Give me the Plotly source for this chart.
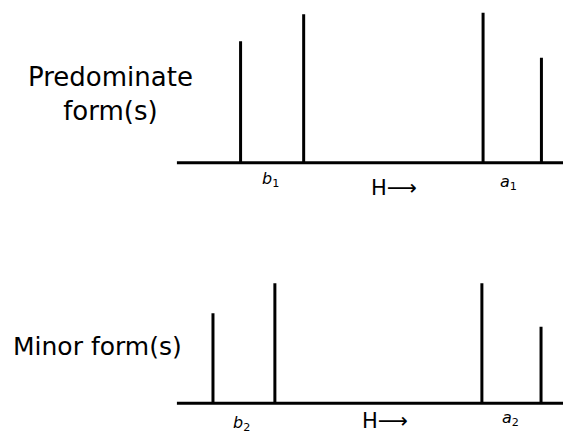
import plotly.graph_objects as go

# peak positions along the field axis (arbitrary units, 0-100) and relative heights
predominate_pos = [16.2, 32.2, 77.7, 92.5]
predominate_height = [0.81, 0.99, 1.00, 0.70]
minor_pos = [9.2, 24.9, 77.4, 92.4]
minor_height = [0.60, 0.80, 0.80, 0.51]

row_titles = ["Predominate<br>form(s)", "Minor form(s)"]
peak_labels_top = ["<i>b</i><sub>1</sub>", "<i>a</i><sub>1</sub>"]
peak_labels_bottom = ["<i>b</i><sub>2</sub>", "<i>a</i><sub>2</sub>"]
field_label = "H⟶"

FONT = "DejaVu Sans"
# the page body adds an 8px margin, so the canvas is a bit smaller than the window
W, H = 555, 427


def stick_xy(pos, height):
    # vertical sticks, separated with None so one trace draws them all
    xs, ys = [], []
    for p, h in zip(pos, height):
        xs += [p, p, None]
        ys += [0, h, None]
    return xs, ys


fig = go.Figure()

panels = [
    ("x", "y", predominate_pos, predominate_height, 99.2),
    ("x2", "y2", minor_pos, minor_height, 100),
]
for xa, ya, pos, height, x_end in panels:
    # baseline
    fig.add_trace(go.Scatter(x=[0, x_end], y=[0, 0], mode="lines",
                             line=dict(color="black", width=3),
                             xaxis=xa, yaxis=ya, hoverinfo="skip"))
    sx, sy = stick_xy(pos, height)
    fig.add_trace(go.Scatter(x=sx, y=sy, mode="lines",
                             line=dict(color="black", width=3),
                             xaxis=xa, yaxis=ya, hoverinfo="skip"))

hidden = dict(visible=False, showgrid=False, zeroline=False, fixedrange=True)
fig.update_layout(
    width=W, height=H,
    margin=dict(l=0, r=0, t=0, b=0),
    paper_bgcolor="white", plot_bgcolor="white",
    showlegend=False,
    font=dict(family=FONT, color="black"),
    xaxis=dict(domain=[0.30396, 1], range=[0, 97.97], anchor="y", **hidden),
    yaxis=dict(domain=[0.6272, 0.9960], range=[-0.03, 1.02], anchor="x", **hidden),
    xaxis2=dict(domain=[0.30396, 1], range=[0, 97.97], anchor="y2", **hidden),
    yaxis2=dict(domain=[0.0637, 0.4325], range=[-0.03, 1.02], anchor="x2", **hidden),
)


def label(text, x, y, size, yanchor="middle"):
    return dict(text=text, x=x, y=y, xref="paper", yref="paper",
                xanchor="center", yanchor=yanchor, showarrow=False,
                font=dict(size=size), align="center")


ann = [
    # row titles on the left
    label(row_titles[0], 0.1838, 0.7986, 26),
    label(row_titles[1], 0.1613, 0.2061, 25),
    # peak group labels and field direction
    label(peak_labels_top[0], 0.4721, 0.5972, 16),
    label(peak_labels_top[1], 0.9027, 0.5925, 16),
    label(field_label, 0.6955, 0.5785, 21),
    label(peak_labels_bottom[0], 0.4211, 0.0281, 16),
    label(peak_labels_bottom[1], 0.9063, 0.0398, 16),
    label(field_label, 0.6793, 0.0, 21, yanchor="bottom"),
]
fig.update_layout(annotations=ann)

fig.write_html("out.html")
